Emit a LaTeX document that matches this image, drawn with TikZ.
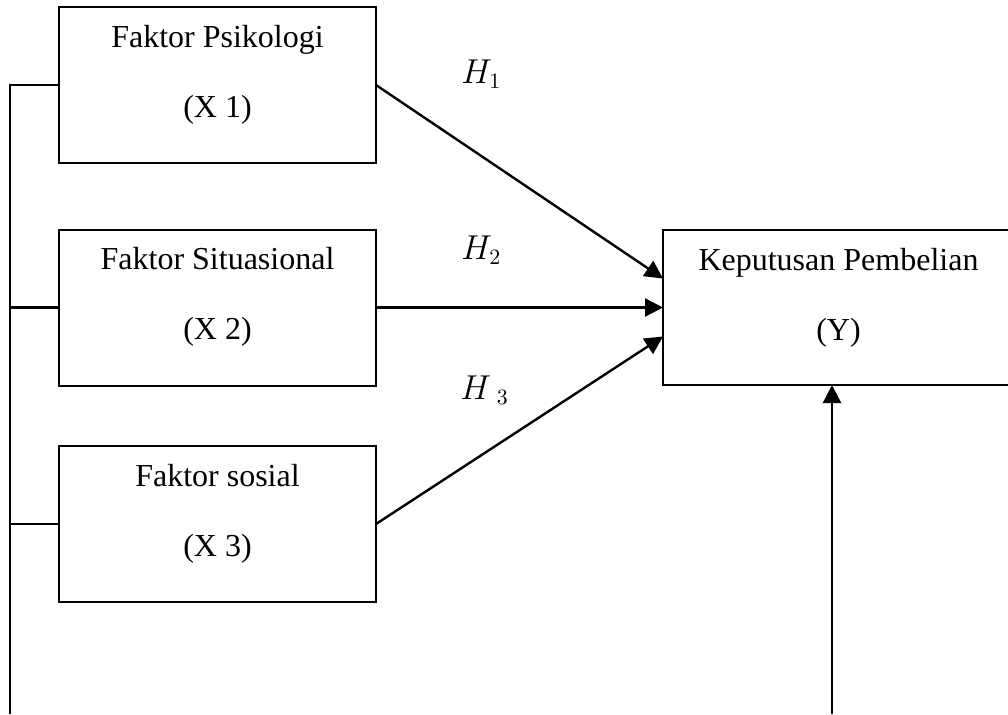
\documentclass[tikz,border=0pt]{standalone}
\usepackage{fontspec}
\setmainfont{Liberation Serif}
\usetikzlibrary{arrows.meta}

\begin{document}
\begin{tikzpicture}[x=0.5pt,y=-0.5pt,
	box/.style={draw,line width=1pt,minimum width=158.5pt,minimum height=78pt,inner sep=0,outer sep=0},
	txt/.style={align=center,anchor=base,font=\fontsize{16}{19}\selectfont},
	hyp/.style={anchor=base west,font=\fontsize{16}{19}\selectfont,inner sep=0},
	line/.style={line width=1.1pt},
	arr/.style={line width=1.2pt,-{Triangle[length=9pt,width=9pt]}}]
	\useasboundingbox (0,0) rectangle (1008,714);
	\node[box] (x1) at (217.5,85) {};
	\node[box] (x2) at (217.5,307.5) {};
	\node[box] (x3) at (217.5,524) {};
	\node[box,minimum width=175.5pt,minimum height=77.5pt] (y) at (838.5,307.5) {};
	\node[txt] (t1) at ([yshift=-55pt]x1.north) {Faktor Psikologi\\[16pt](X 1)};
	\node[txt] (t2) at ([yshift=-55pt]x2.north) {Faktor Situasional\\[16pt](X 2)};
	\node[txt] (t3) at ([yshift=-55pt]x3.north) {Faktor sosial\\[16pt](X 3)};
	\node[txt] (ty) at ([yshift=-55pt]y.north) {Keputusan Pembelian\\[16pt](Y)};
	\node[hyp] (h1) at (461,83) {$H_1$};
	\node[hyp] (h2) at (461,259) {$H_2$};
	\node[hyp] (h3) at (460,399) {$H\,{}_3$};
	\coordinate (bot) at (10,714);
	\coordinate (in) at (832,714);
	% left bracket
	\draw[line] (x1.west) -| (bot);
	\draw[line] (x2.west) -- (x2.west -| bot);
	\draw[line] (x3.west) -- (x3.west -| bot);
	% hypotheses
	\draw[arr] (x1.east) -- ([yshift=14.5pt]y.west);
	\draw[arr] (x2.east) -- (y.west);
	\draw[arr] (x3.east) -- ([yshift=-14.5pt]y.west);
	\draw[arr] (in) -- (in |- y.south);
\end{tikzpicture}
\end{document}
